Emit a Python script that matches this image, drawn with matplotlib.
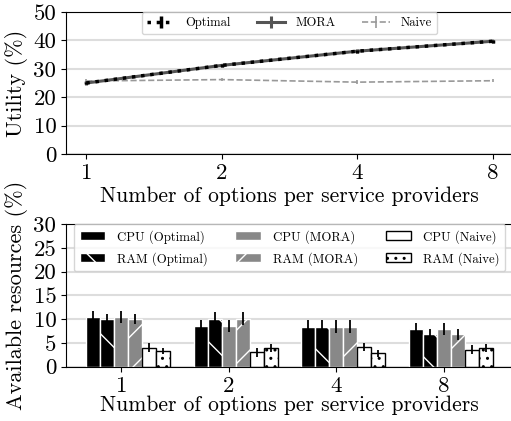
import numpy as np
import matplotlib
matplotlib.use('Agg')
import matplotlib.pyplot as plt

plt.rcParams['font.family'] = 'serif'
plt.rcParams['font.serif'] = ['cmr10']
plt.rcParams['mathtext.fontset'] = 'cm'
plt.rcParams['axes.unicode_minus'] = False
plt.rcParams['hatch.linewidth'] = 1.0

options = ['1', '2', '4', '8']

# utility (%)
util_opt = [25.0, 31.2, 36.2, 39.7]
util_opt_err = [0.5, 0.5, 0.5, 0.5]
util_mora = [25.0, 31.2, 36.2, 39.7]
util_mora_err = [0.6, 0.6, 0.6, 0.6]
util_naive = [25.7, 26.2, 25.3, 25.8]
util_naive_err = [0.6, 0.6, 0.6, 0.6]

# available resources (%)
cpu_opt = [10.4, 8.6, 8.4, 7.9]
cpu_opt_err = [1.3, 1.3, 1.4, 1.3]
ram_opt = [10.0, 10.1, 8.4, 6.8]
ram_opt_err = [1.1, 1.3, 1.4, 1.1]
cpu_mora = [10.4, 8.6, 8.4, 7.9]
cpu_mora_err = [1.3, 1.3, 1.4, 1.3]
ram_mora = [10.0, 10.1, 8.4, 6.8]
ram_mora_err = [1.1, 1.3, 1.4, 1.1]
cpu_naive = [4.0, 3.0, 4.1, 3.6]
cpu_naive_err = [0.9, 0.9, 0.9, 0.9]
ram_naive = [3.3, 3.9, 2.8, 3.9]
ram_naive_err = [0.7, 0.8, 0.7, 0.9]

fig = plt.figure(figsize=(5.11, 4.21), dpi=100)
x = np.arange(len(options))

# ---- top: utility
ax1 = fig.add_axes([66/511, 1-154/421, (513-66)/511, (154-12)/421])
ax1.errorbar(x, util_mora, yerr=util_mora_err, color='#555555', lw=2.2,
             ls='-', label='MORA', zorder=3)
ax1.errorbar(x, util_opt, yerr=util_opt_err, color='black', lw=2.5,
             ls=':', label='Optimal', zorder=4)
ax1.errorbar(x, util_naive, yerr=util_naive_err, color='#999999', lw=1.2,
             ls='--', label='Naive', zorder=2)
ax1.set_ylim(0, 50)
ax1.set_yticks(range(0, 51, 10))
ax1.set_xticks(x)
ax1.set_xticklabels(options)
ax1.grid(axis='y', color='#dddddd', lw=1.5)
ax1.set_axisbelow(True)
ax1.set_ylabel('Utility (%)', fontsize=16)
ax1.set_xlabel('Number of options per service providers', fontsize=15.5, labelpad=2)
ax1.tick_params(labelsize=16.5)
h, l = ax1.get_legend_handles_labels()
ax1.legend([h[1], h[0], h[2]], [l[1], l[0], l[2]], loc='upper center', ncol=3,
           fontsize=9, borderaxespad=0, columnspacing=2.1, handlelength=2.2,
           handletextpad=0.9, borderpad=0.4)

# ---- bottom: resources
ax2 = fig.add_axes([66/511, 1-366.7/421, (513-66)/511, (366.7-224)/421])
w = 0.13
series = [
    (cpu_opt, cpu_opt_err, 'black', 'white', '', 'CPU (Optimal)'),
    (ram_opt, ram_opt_err, 'black', 'white', '\\', 'RAM (Optimal)'),
    (cpu_mora, cpu_mora_err, '#888888', 'white', '', 'CPU (MORA)'),
    (ram_mora, ram_mora_err, '#888888', 'white', '/', 'RAM (MORA)'),
    (cpu_naive, cpu_naive_err, 'white', 'black', '', 'CPU (Naive)'),
    (ram_naive, ram_naive_err, 'white', 'black', '..', 'RAM (Naive)'),
]
for i, (vals, errs, fc, ec, hatch, lab) in enumerate(series):
    ax2.bar(x + (i - 2) * w, vals, w, yerr=errs, color=fc, edgecolor=ec,
            hatch=hatch, lw=1, label=lab,
            error_kw=dict(ecolor='black', elinewidth=1.3, capsize=0))
ax2.set_ylim(0, 30)
ax2.set_yticks(range(0, 31, 5))
ax2.set_xticks(x)
ax2.set_xticklabels(options)
ax2.grid(axis='y', color='#dddddd', lw=1.5)
ax2.set_axisbelow(True)
ax2.set_ylabel('Available resources (%)', fontsize=16)
ax2.set_xlabel('Number of options per service providers', fontsize=15.5, labelpad=0)
ax2.tick_params(labelsize=16.5)
ax2.legend(loc='upper center', ncol=3, fontsize=9.2, borderaxespad=0,
           columnspacing=2.2, handlelength=2.0, handletextpad=0.9,
           borderpad=0.45, labelspacing=0.65)

plt.savefig('out.png', dpi=100)
